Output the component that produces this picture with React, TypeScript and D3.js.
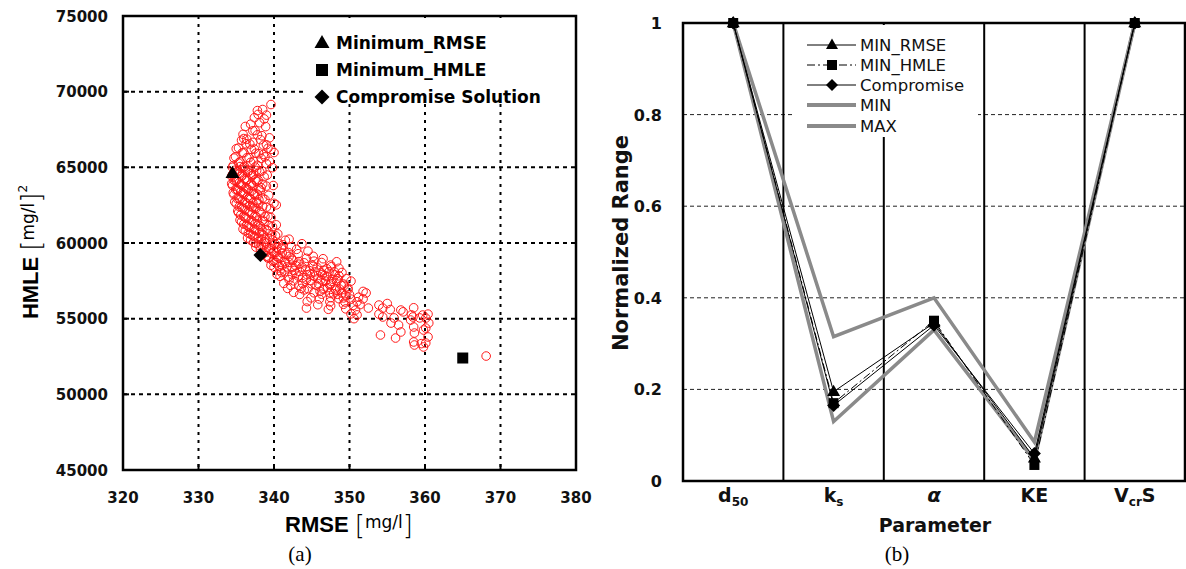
import React from "react";
import * as d3 from "d3";

// ---------- Panel (a) data ----------
const xTicksA = [320, 330, 340, 350, 360, 370, 380];
const yTicksA = [45000, 50000, 55000, 60000, 65000, 70000, 75000];

const paretoPoints: [number, number][] = [
  [339.6,69150],[337.8,68750],[338.5,68820],[339.0,68450],[337.4,68280],[338.7,68200],
  [336.9,67850],[338.1,67950],[336.2,67700],[337.5,67430],[338.9,67690],
  [335.9,67180],[337.2,67420],[338.4,67090],[336.4,66860],[337.8,67150],[339.4,66950],
  [335.7,66790],[336.8,66540],[338.2,66830],[339.0,66490],
  [335.3,66280],[336.3,66560],[337.4,66210],[338.6,66470],[339.6,66180],
  [335.0,66230],[336.0,65960],[337.0,66190],[338.0,65900],[339.2,66260],
  [334.9,65700],[335.8,65960],[336.7,65640],[337.6,65930],[338.8,65690],[340.0,65980],
  [334.7,65610],[335.5,65360],[336.4,65630],[337.3,65400],[338.3,65590],
  [334.6,65120],[335.3,65290],[336.1,65060],[336.9,65330],[337.8,65140],[339.0,65240],[339.8,64980],
  [334.5,65000],[335.2,64760],[335.9,64980],[336.7,64800],[337.5,65020],[338.4,64770],
  [334.5,64520],[335.1,64700],[335.8,64480],[336.5,64690],[337.3,64530],[338.1,64710],[339.1,64490],
  [334.4,64410],[335.0,64170],[335.7,64400],[336.4,64190],[337.1,64440],[337.9,64160],[338.7,64380],
  [334.4,63920],[335.0,64090],[335.6,63880],[336.3,64110],[337.0,63900],[337.7,64070],[338.5,63890],[339.9,63800],
  [334.5,63800],[335.1,63560],[335.7,63820],[336.4,63590],[337.2,63790],[338.0,63570],[339.0,63760],
  [334.6,63320],[335.2,63490],[335.9,63300],[336.6,63510],[337.3,63280],[338.2,63480],[339.3,63150],
  [334.7,63200],[335.3,62980],[336.0,63220],[336.7,62990],[337.4,63210],[338.5,62970],
  [334.8,62720],[335.5,62890],[336.2,62680],[336.9,62900],[337.7,62700],[338.8,62880],[340.0,62620],
  [335.0,62600],[335.7,62380],[336.4,62620],[337.1,62390],[337.9,62610],[339.0,62370],[340.3,62520],
  [335.2,62120],[335.9,62290],[336.6,62090],[337.3,62310],[338.1,62100],[339.5,62260],
  [335.3,62000],[336.0,61780],[336.8,62020],[337.5,61790],[338.3,61990],[339.2,61760],
  [335.5,61520],[336.2,61700],[337.0,61500],[337.7,61710],[338.5,61490],[339.6,61680],
  [335.7,61400],[336.4,61180],[337.2,61420],[337.9,61190],[338.7,61410],[340.3,61200],
  [335.9,60920],[336.6,61100],[337.4,60900],[338.2,61110],[339.0,60880],[339.8,61070],
  [336.2,60800],[336.9,60580],[337.6,60820],[338.4,60590],[339.2,60810],[340.5,60600],
  [336.5,60330],[337.2,60500],[337.9,60310],[338.6,60520],[339.4,60300],[340.2,60480],[342.0,60250],
  [336.9,60200],[337.6,59980],[338.3,60220],[339.0,59990],[339.8,60210],[340.6,59970],[341.5,60180],
  [337.6,59730],[338.3,59900],[339.0,59710],[339.7,59920],[340.4,59700],[341.2,59880],[342.3,59760],[343.7,59950],
  [338.2,59600],[338.9,59380],[339.6,59620],[340.3,59390],[341.0,59610],[341.9,59370],[343.0,59580],[344.5,59460],
  [339.0,59130],[339.7,59300],[340.4,59100],[341.1,59320],[342.0,59110],[343.2,59290],[345.2,59120],
  [339.2,59000],[339.9,58780],[340.6,59020],[341.4,58790],[342.3,59010],[343.3,58770],[344.3,58990],[345.3,58800],[346.5,58960],
  [339.6,58530],[340.3,58700],[341.1,58510],[342.0,58720],[342.9,58500],[344.0,58690],[345.1,58520],[346.3,58710],[347.5,58540],[348.3,58760],
  [340.0,58400],[340.8,58180],[341.7,58420],[342.7,58190],[343.7,58410],[344.7,58170],[345.7,58390],[346.6,58200],[347.6,58430],[348.6,58330],
  [340.4,57930],[341.4,58100],[342.4,57910],[343.4,58120],[344.4,57900],[345.4,58090],[346.4,57920],[347.3,58110],[348.1,57890],[349.0,58050],
  [340.8,57800],[342.0,57580],[343.2,57820],[344.3,57590],[345.3,57810],[346.2,57570],[347.0,57790],[347.8,57600],[348.6,57830],[349.6,57640],
  [341.3,57330],[342.6,57500],[343.8,57310],[344.9,57520],[345.9,57300],[346.8,57490],[347.5,57320],[348.3,57510],[349.2,57290],[350.2,57480],
  [341.8,57000],[343.3,57200],[344.5,56980],[345.6,57210],[346.6,56990],[347.4,57220],[348.1,56970],[348.9,57190],[349.8,57010],
  [342.6,56740],[344.0,56900],[345.3,56710],[346.5,56920],[347.4,56720],[348.2,56880],[349.0,56700],[349.8,56910],[351.8,56800],
  [343.4,56600],[344.9,56380],[346.3,56620],[347.5,56390],[348.4,56610],[349.2,56370],[350.0,56590],[351.2,56420],[352.2,56700],
  [344.4,56130],[346.0,56300],[347.4,56110],[348.6,56320],[349.4,56100],[350.2,56290],[351.0,56120],[351.8,56310],
  [345.8,55920],[347.5,55850],[349.2,55950],[350.5,55880],[351.4,55930],[353.9,55900],[355.0,56000],
  [344.3,55700],[347.2,55620],[349.5,55650],[350.8,55570],[352.5,55700],[354.4,55700],[355.4,55600],[356.8,55570],[358.5,55720],
  [350.2,55320],[351.0,55250],[353.9,55300],[357.1,55450],[358.2,55250],[359.7,55240],[360.4,55300],
  [350.6,55000],[354.4,55110],[355.9,55050],[358.4,55110],[359.3,55050],[360.1,55040],
  [355.5,54710],[358.1,54910],[360.5,54710],
  [356.5,54580],[358.5,54450],[360.1,54380],[359.8,54250],
  [356.8,54120],[358.6,54050],
  [354.1,53920],[356.1,53720],[360.4,53790],
  [358.5,53460],[359.5,53350],[360.1,53390],
  [359.8,53130],[358.6,53260],
  [368.1,52530],
  // extra fill of the densest part of the front
  [334.8,64800],[335.5,64620],[336.2,64850],[336.9,64560],[337.7,64790],
  [334.7,64150],[335.4,63980],[336.1,64250],[336.8,63820],[337.5,64180],[338.3,63650],
  [334.9,63550],[335.6,63380],[336.3,63650],[337.0,63420],[337.8,63230],
  [335.1,62950],[335.8,62780],[336.5,63050],[337.2,62650],[338.0,62860],
  [335.4,62400],[336.1,62200],[336.8,62450],[337.6,62280],[338.5,62420],
  [335.6,61850],[336.3,61620],[337.1,61900],[337.8,61450],[338.8,61750],
  [336.0,61250],[336.8,61020],[337.5,61280],[338.4,60850],[339.3,61150],
  [336.6,60650],[337.4,60420],[338.1,60700],[338.9,60250],[339.7,60550],
  [337.3,60050],[338.0,59850],[338.7,60080],[339.4,59620],[340.1,59950],[341.0,59700],
  [338.6,59300],[339.3,59050],[340.0,59420],[340.8,58980],[341.6,59250],[342.5,58850],
  [340.0,58850],[340.7,58450],[341.5,58700],[342.4,58380],[343.3,58600],[344.2,58250],[345.2,58450],[346.2,58050],[347.0,58300],[348.0,58100],
  [341.0,58050],[341.9,57750],[342.9,58000],[343.8,57700],[344.8,57950],[345.8,57650],[346.7,57850],[347.6,57450],[348.4,57650],[349.3,57200],
  [342.2,57200],[343.6,57000],[345.0,57300],[346.1,56800],[347.1,57050],[347.9,56650],[348.7,56950],[349.5,56550],
  [339.4,65400],[338.6,65850],[337.2,66650],[336.0,66900],[335.5,65050],[337.9,68500],
];

const minRmsePoint: [number, number] = [334.5, 64600];
const minHmlePoint: [number, number] = [365.0, 52400];
const compromisePoint: [number, number] = [338.2, 59200];
const legendA = ["Minimum_RMSE", "Minimum_HMLE", "Compromise Solution"];

// ---------- Panel (b) data ----------
const parameters = ["d50", "ks", "alpha", "KE", "VcrS"];
const minRmseSeries = [1, 0.195, 0.345, 0.05, 1];
const minHmleSeries = [1, 0.17, 0.35, 0.035, 1];
const compromiseSeries = [1, 0.165, 0.34, 0.06, 1];
const minSeries = [1, 0.13, 0.33, 0.045, 1];
const maxSeries = [1, 0.315, 0.4, 0.085, 1];
const yTicksB = [0, 0.2, 0.4, 0.6, 0.8, 1];
const legendB = ["MIN_RMSE", "MIN_HMLE", "Compromise", "MIN", "MAX"];

const SANS = "'Liberation Sans', Arial, sans-serif";
const DJ = "'DejaVu Sans', sans-serif";
const SERIF = "'Liberation Serif', 'Times New Roman', serif";

const tri = (cx: number, cy: number, s: number) => {
  const h = s * 0.866;
  return `M${cx},${cy - h * 0.62}L${cx + s / 2},${cy + h * 0.38}L${cx - s / 2},${cy + h * 0.38}Z`;
};
const sq = (cx: number, cy: number, s: number) =>
  `M${cx - s / 2},${cy - s / 2}h${s}v${s}h${-s}Z`;
const dia = (cx: number, cy: number, s: number) =>
  `M${cx},${cy - s / 2}L${cx + s / 2},${cy}L${cx},${cy + s / 2}L${cx - s / 2},${cy}Z`;

export default function App() {
  const xA = d3.scaleLinear().domain([320, 380]).range([123, 576]);
  const yA = d3.scaleLinear().domain([45000, 75000]).range([470, 16]);
  const xB = d3.scaleBand().domain(parameters).range([683, 1185]);
  const yB = d3.scaleLinear().domain([0, 1]).range([481, 23]);
  const cx = (p: string) => (xB(p) as number) + xB.bandwidth() / 2;

  const lineB = (vals: number[]) =>
    d3.line<number>().x((_, i) => cx(parameters[i])).y((v) => yB(v))(vals) as string;

  const legendYA = [43, 70, 97];
  const legendYB = [45, 65, 85, 105, 126];

  return (
    <svg width={1186} height={569} style={{ position: "absolute", left: 0, top: 0, background: "#fff" }}>
      <rect x={0} y={0} width={1186} height={569} fill="#fff" />

      {/* ===== Panel (a) ===== */}
      {xTicksA.slice(1, -1).map((t) => (
        <line key={"gx" + t} x1={xA(t)} x2={xA(t)} y1={yA(75000)} y2={yA(45000)}
          stroke="#000" strokeWidth={2} strokeDasharray="3,5" />
      ))}
      {yTicksA.slice(1, -1).map((t) => (
        <line key={"gy" + t} x1={xA(320)} x2={xA(380)} y1={yA(t)} y2={yA(t)}
          stroke="#000" strokeWidth={2} strokeDasharray="4,4" />
      ))}
      {xTicksA.slice(1, -1).map((t) => (
        <line key={"tx" + t} x1={xA(t)} x2={xA(t)} y1={yA(45000)} y2={yA(45000) - 6} stroke="#000" strokeWidth={2} />
      ))}
      {yTicksA.slice(1, -1).map((t) => (
        <line key={"ty" + t} x1={xA(320)} x2={xA(320) + 6} y1={yA(t)} y2={yA(t)} stroke="#000" strokeWidth={2} />
      ))}
      <rect x={303} y={18} width={272} height={86} fill="#fff" />

      {paretoPoints.map((p, i) => (
        <circle key={"p" + i} cx={xA(p[0])} cy={yA(p[1])} r={4.3} fill="none" stroke="#ff1a1a" strokeWidth={1} />
      ))}
      <path d={tri(xA(minRmsePoint[0]), yA(minRmsePoint[1]), 14)} fill="#000" />
      <path d={sq(xA(minHmlePoint[0]), yA(minHmlePoint[1]), 11)} fill="#000" />
      <path d={dia(xA(compromisePoint[0]), yA(compromisePoint[1]), 14)} fill="#000" />

      <rect x={xA(320)} y={yA(75000)} width={xA(380) - xA(320)} height={yA(45000) - yA(75000)}
        fill="none" stroke="#000" strokeWidth={2.5} />

      <path d={tri(322, legendYA[0], 15)} fill="#000" />
      <path d={sq(322, legendYA[1], 12)} fill="#000" />
      <path d={dia(322, legendYA[2], 15)} fill="#000" />
      {legendA.map((t, i) => (
        <text key={t} x={336} y={legendYA[i] + 6} fontFamily={DJ} fontWeight="bold" fontSize={17} fill="#000">{t}</text>
      ))}

      {xTicksA.map((t) => (
        <text key={"lx" + t} x={xA(t)} y={503} textAnchor="middle" fontFamily={DJ} fontWeight="bold" fontSize={15} fill="#111">{t}</text>
      ))}
      {yTicksA.map((t) => (
        <text key={"ly" + t} x={108} y={yA(t) + 5.5} textAnchor="end" fontFamily={DJ} fontWeight="bold" fontSize={15} fill="#111">{t}</text>
      ))}

      <text x={349} y={532} textAnchor="middle" fill="#000">
        <tspan fontFamily={SANS} fontWeight="bold" fontSize={22}>RMSE </tspan>
        <tspan fontFamily={DJ} fontWeight="200" fontSize={26} dy={2}>[</tspan>
        <tspan fontFamily={DJ} fontSize={17} dy={-6}>mg/l</tspan>
        <tspan fontFamily={DJ} fontWeight="200" fontSize={26} dy={6}>]</tspan>
      </text>
      <text transform="translate(38,252) rotate(-90)" textAnchor="middle" fill="#000">
        <tspan fontFamily={SANS} fontWeight="bold" fontSize={22}>HMLE </tspan>
        <tspan fontFamily={DJ} fontWeight="200" fontSize={26} dy={2}>[</tspan>
        <tspan fontFamily={DJ} fontSize={17} dy={-6}>mg/l</tspan>
        <tspan fontFamily={DJ} fontWeight="200" fontSize={26} dy={6}>]</tspan>
        <tspan fontFamily={DJ} fontSize={12} dy={-13}>2</tspan>
      </text>
      <text x={300} y={561} textAnchor="middle" fontFamily={SERIF} fontSize={21} fill="#000">(a)</text>

      {/* ===== Panel (b) ===== */}
      {yTicksB.slice(1, -1).map((t) => (
        <line key={"gb" + t} x1={683} x2={1185} y1={yB(t)} y2={yB(t)} stroke="#222" strokeWidth={1} strokeDasharray="4,3" />
      ))}
      {parameters.slice(1).map((p) => (
        <line key={"vb" + p} x1={xB(p) as number} x2={xB(p) as number} y1={yB(1)} y2={yB(0)} stroke="#000" strokeWidth={2} />
      ))}
      <rect x={795} y={25} width={183} height={112} fill="#fff" />

      <path d={lineB(maxSeries)} fill="none" stroke="#8a8a8a" strokeWidth={3.5} />
      <path d={lineB(minSeries)} fill="none" stroke="#8a8a8a" strokeWidth={3.5} />
      <path d={lineB(minRmseSeries)} fill="none" stroke="#000" strokeWidth={1} />
      <path d={lineB(minHmleSeries)} fill="none" stroke="#000" strokeWidth={1} strokeDasharray="8,3,2,3" />
      <path d={lineB(compromiseSeries)} fill="none" stroke="#000" strokeWidth={1} />
      {parameters.map((p, i) => (
        <g key={"m" + p}>
          <path d={sq(cx(p), yB(minHmleSeries[i]), 10)} fill="#000" />
          <path d={dia(cx(p), yB(compromiseSeries[i]), 13)} fill="#000" />
          <path d={tri(cx(p), yB(minRmseSeries[i]), 13)} fill="#000" />
        </g>
      ))}

      <rect x={683} y={yB(1)} width={502} height={yB(0) - yB(1)} fill="none" stroke="#000" strokeWidth={2.5} />

      {legendB.map((t, i) => {
        const y = legendYB[i];
        const gray = i >= 3;
        return (
          <g key={t}>
            <line x1={807} x2={856} y1={y} y2={y} stroke={gray ? "#8a8a8a" : "#000"} strokeWidth={gray ? 4 : 1}
              strokeDasharray={i === 1 ? "8,3,2,3" : undefined} />
            {i === 0 && <path d={tri(832, y, 12)} fill="#000" />}
            {i === 1 && <path d={sq(832, y, 10)} fill="#000" />}
            {i === 2 && <path d={dia(832, y, 12)} fill="#000" />}
            <text x={860} y={y + 6} fontFamily={DJ} fontSize={16.5} fill="#111">{t}</text>
          </g>
        );
      })}

      {yTicksB.map((t) => (
        <text key={"lb" + t} x={662} y={yB(t) + 6} textAnchor="end" fontFamily={DJ} fontWeight="bold" fontSize={16} fill="#111">{String(t)}</text>
      ))}
      <text x={cx("d50")} y={502} textAnchor="middle" fontFamily={DJ} fontWeight="bold" fill="#111">
        <tspan fontSize={19}>d</tspan><tspan fontSize={12} dy={4}>50</tspan>
      </text>
      <text x={cx("ks")} y={502} textAnchor="middle" fontFamily={DJ} fontWeight="bold" fill="#111">
        <tspan fontSize={19}>k</tspan><tspan fontSize={12} dy={4}>s</tspan>
      </text>
      <text x={cx("alpha")} y={502} textAnchor="middle" fontFamily={DJ} fontWeight="bold" fontStyle="italic" fontSize={20} fill="#111">α</text>
      <text x={cx("KE")} y={502} textAnchor="middle" fontFamily={DJ} fontWeight="bold" fontSize={19} fill="#111">KE</text>
      <text x={cx("VcrS")} y={502} textAnchor="middle" fontFamily={DJ} fontWeight="bold" fill="#111">
        <tspan fontSize={19}>V</tspan><tspan fontSize={12} dy={4}>cr</tspan><tspan fontSize={19} dy={-4}>S</tspan>
      </text>

      <text x={935} y={532} textAnchor="middle" fontFamily={DJ} fontWeight="bold" fontSize={19} fill="#111">Parameter</text>
      <text transform="translate(628,243) rotate(-90)" textAnchor="middle" fontFamily={DJ} fontWeight="bold" fontSize={21} fill="#111">Normalized Range</text>
      <text x={897} y={561} textAnchor="middle" fontFamily={SERIF} fontSize={21} fill="#000">(b)</text>
    </svg>
  );
}
